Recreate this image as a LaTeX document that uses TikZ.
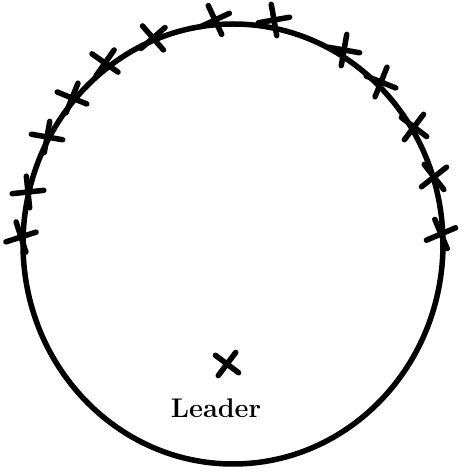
\documentclass[tikz,border=0pt]{standalone}
\usetikzlibrary{shapes.misc,shapes.geometric}
\begin{document}
\begin{tikzpicture}[x=1pt,y=1pt,
  member/.style={cross out,draw=black,line width=5.5pt,minimum size=17pt,inner sep=0pt,line cap=round},
  ring/.style={draw=black,line width=5.5pt}]
\useasboundingbox (0,0) rectangle (463,474);
\node[ring,ellipse,minimum width=420pt,minimum height=440pt,inner sep=0pt] (circle) at (233,230) {};
% members on the left
\node[member,rotate=70]  (m1)  at (215,454) {};
\node[member,rotate=86]  (m2)  at (153,436) {};
\node[member,rotate=100] (m3)  at (105,411) {};
\node[member,rotate=113] (m4)  at (72,376) {};
\node[member,rotate=125] (m5)  at (47,337) {};
\node[member,rotate=141] (m6)  at (28,282) {};
\node[member,rotate=153] (m7)  at (21,237) {};
% members on the right
\node[member,rotate=55]  (m8)  at (274,454) {};
\node[member,rotate=35]  (m9)  at (344,424) {};
\node[member,rotate=23]  (m10) at (381,392) {};
\node[member,rotate=8]   (m11) at (414,347) {};
\node[member,rotate=-7]  (m12) at (434,297) {};
\node[member,rotate=-22] (m13) at (441,240) {};
% leader
\node[member,rotate=8,minimum size=15pt] (leader) at (227,110) {};
\node[font=\fontsize{27}{30}\selectfont\bfseries,inner sep=0pt] (label) at (216,66) {Leader};
\end{tikzpicture}
\end{document}
